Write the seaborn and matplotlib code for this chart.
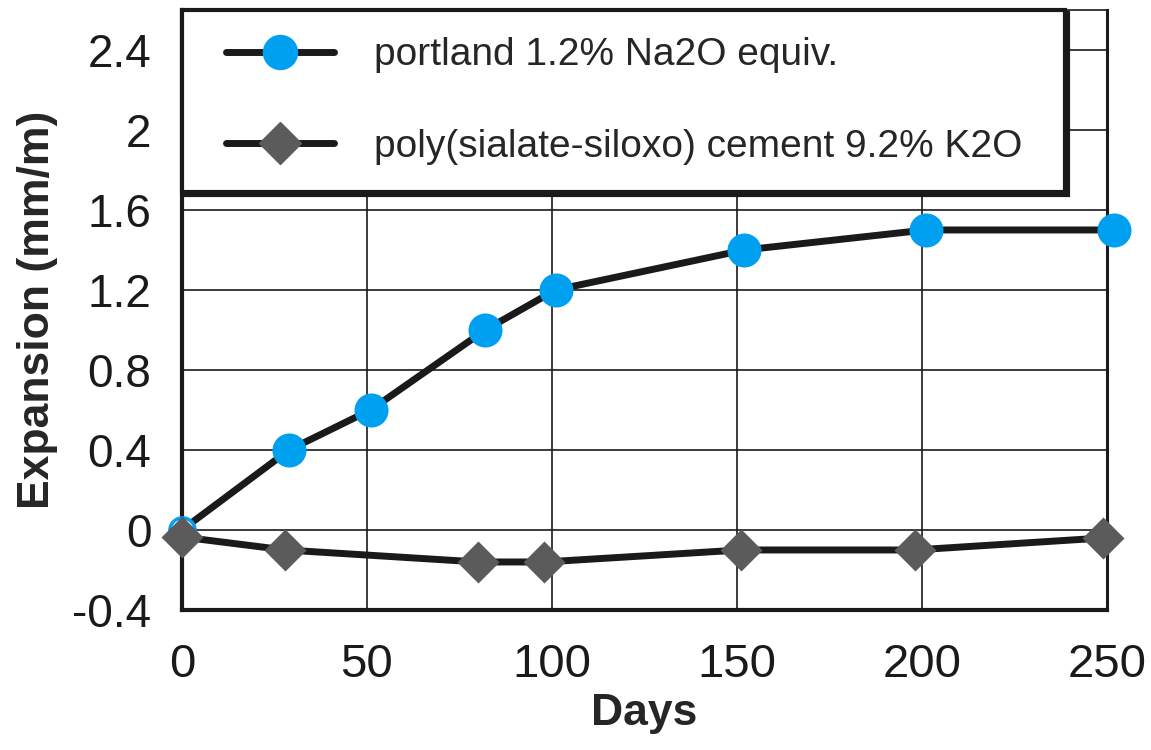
import matplotlib
matplotlib.use("Agg")
import matplotlib.pyplot as plt
import seaborn as sns
from matplotlib.lines import Line2D
from matplotlib.legend_handler import HandlerLine2D
from matplotlib.ticker import MultipleLocator

# values
portland_days = [0, 29, 51, 82, 101, 152, 201, 252]
portland_exp = [0.0, 0.4, 0.6, 1.0, 1.2, 1.4, 1.5, 1.5]
geo_days = [0, 28, 80, 98, 151, 198, 249]
geo_exp = [-0.035, -0.1, -0.16, -0.16, -0.1, -0.1, -0.04]
labels = ["portland 1.2% Na2O equiv.", "poly(sialate-siloxo) cement 9.2% K2O"]
x_ticks = [0, 50, 100, 150, 200, 250]
y_ticks = [-0.4, 0, 0.4, 0.8, 1.2, 1.6, 2.0, 2.4]
y_ticklabels = ["-0.4", "0", "0.4", "0.8", "1.2", "1.6", "2", "2.4"]

blue = "#00a0f0"
grey = "#5b5b5b"
ink = "#1a1a1a"

sns.set_style("white")
plt.rcParams["font.family"] = ["Liberation Sans", "DejaVu Sans"]

fig = plt.figure(figsize=(11.51, 7.5), dpi=100)
ax = fig.add_axes([0.158, 0.1867, 0.8037, 0.80])

# portland line + markers
sns.lineplot(x=portland_days, y=portland_exp, ax=ax, color=ink, lw=5, zorder=3)
sns.scatterplot(x=portland_days[1:], y=portland_exp[1:], ax=ax, marker="o", s=600,
                color=blue, edgecolor=blue, linewidth=0, zorder=4, clip_on=False)
ax.scatter(portland_days[:1], portland_exp[:1], s=330, facecolor="white",
           edgecolor=blue, linewidth=2.5, zorder=4, clip_on=False)

# geopolymer line + markers
sns.lineplot(x=geo_days, y=geo_exp, ax=ax, color=ink, lw=5, zorder=5)
sns.scatterplot(x=geo_days, y=geo_exp, ax=ax, marker="D", s=458,
                color=grey, edgecolor=grey, linewidth=0, zorder=6, clip_on=False)

ax.set_xlim(0, 250)
ax.set_ylim(-0.4, 2.6)
ax.set_xticks(x_ticks)
ax.set_yticks(y_ticks)
ax.set_yticklabels(y_ticklabels)
ax.xaxis.set_minor_locator(MultipleLocator(10))
ax.yaxis.set_minor_locator(MultipleLocator(0.08))
ax.grid(True, which="major", color=ink, lw=1.2)

ax.tick_params(axis="both", which="major", direction="out", length=16, width=1.5,
               color=ink, labelcolor=ink)
ax.tick_params(axis="both", which="minor", direction="out", length=8, width=1.2, color=ink)
ax.tick_params(axis="x", which="major", labelsize=34, pad=8)
ax.tick_params(axis="y", which="major", labelsize=33, pad=6)

for side, lw in [("left", 3), ("bottom", 3), ("right", 2.2), ("top", 1.2)]:
    ax.spines[side].set_color(ink)
    ax.spines[side].set_linewidth(lw)

ax.set_xlabel("Days", fontsize=32, fontweight="bold", labelpad=4)
ax.set_ylabel("Expansion (mm/m)", fontsize=32, fontweight="bold", labelpad=10)

handles = [
    Line2D([], [], color=ink, lw=5, marker="o", ms=24.5, mfc=blue, mec=blue),
    Line2D([], [], color=ink, lw=5, marker="D", ms=21.4, mfc=grey, mec=grey),
]
leg = ax.legend(handles, labels, loc="upper left", bbox_to_anchor=(0, 0, 0.9546, 1),
                mode="expand", borderaxespad=0, fontsize=28, frameon=True,
                fancybox=False, edgecolor=ink, framealpha=1, handlelength=3.2,
                handletextpad=1.04, labelspacing=1.43, borderpad=0.7,
                handler_map={Line2D: HandlerLine2D(xpad=0.44)},
                shadow={"color": ink, "alpha": 1})
leg.get_frame().set_linewidth(3)
leg.set_zorder(10)

fig.savefig("out.png", dpi=100)
